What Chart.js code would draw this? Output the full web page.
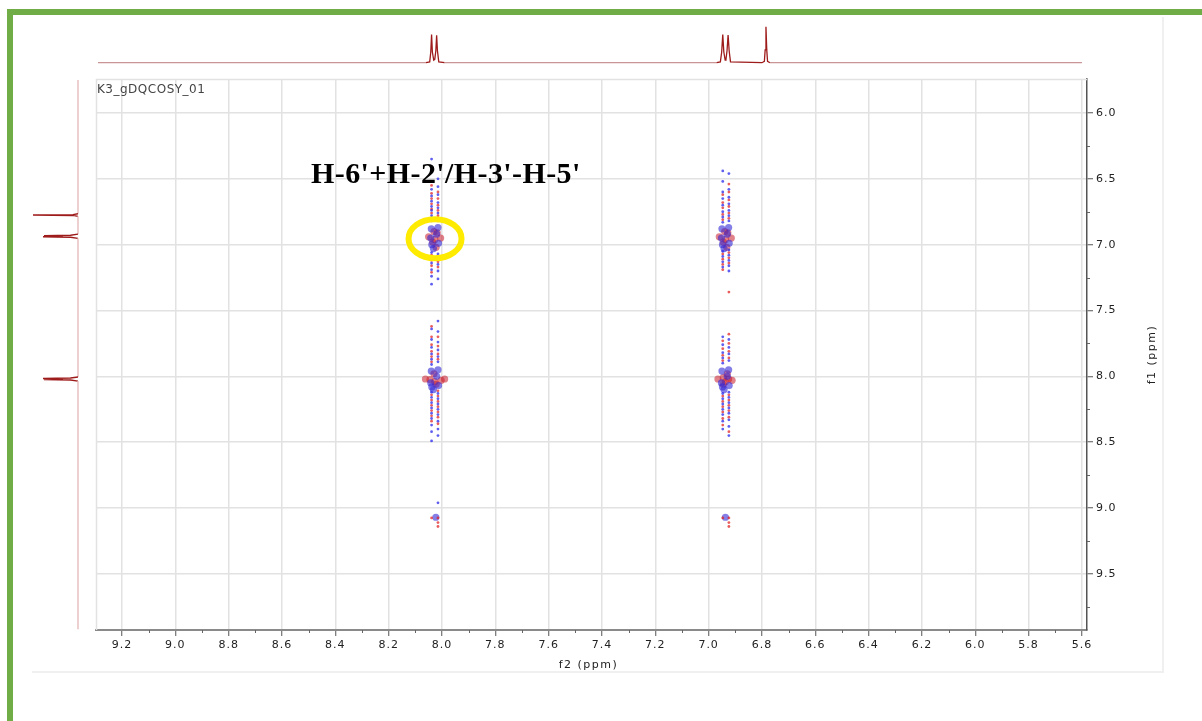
<!DOCTYPE html>
<html>
<head>
<meta charset="utf-8">
<script src="https://cdn.jsdelivr.net/npm/chart.js@4.4.1/dist/chart.umd.min.js"></script>
<style>
html, body { margin: 0; padding: 0; background: #fff; }
body { width: 1202px; height: 721px; position: relative; overflow: hidden; }
#greenTop { position: absolute; left: 7px; top: 9px; width: 1195px; height: 6px; background: #70ad47; }
#greenLeft { position: absolute; left: 7px; top: 9px; width: 6px; height: 712px; background: #70ad47; }
#panel { position: absolute; left: 32px; top: 17px; width: 1130px; height: 654px;
         border-right: 2px solid #f0f0f0; border-bottom: 2px solid #f0f0f0; }
canvas { position: absolute; }
#main { left: 0; top: 0; }
#top { left: 96px; top: 20px; }
#side { left: 28px; top: 79px; }
</style>
</head>
<body>
<div id="greenTop"></div>
<div id="greenLeft"></div>
<div id="panel"></div>
<canvas id="main" width="1202" height="721"></canvas>
<canvas id="top" width="991" height="44"></canvas>
<canvas id="side" width="52" height="551"></canvas>
<script>
// axis ranges (ppm), both axes run high -> low
const f2Range = [5.581, 9.2975];
const f1Range = [5.742, 9.926];

const f2Ticks = [9.2, 9.0, 8.8, 8.6, 8.4, 8.2, 8.0, 7.8, 7.6, 7.4, 7.2, 7.0, 6.8, 6.6, 6.4, 6.2, 6.0, 5.8, 5.6];
const f2Minor = [9.1, 8.9, 8.7, 8.5, 8.3, 8.1, 7.9, 7.7, 7.5, 7.3, 7.1, 6.9, 6.7, 6.5, 6.3, 6.1, 5.9, 5.7];
const f1Ticks = [6.0, 6.5, 7.0, 7.5, 8.0, 8.5, 9.0, 9.5];
const f1Minor = [6.25, 6.75, 7.25, 7.75, 8.25, 8.75, 9.25, 9.75];

// 1D projection on top (f2)
const topPpm = [9.29, 8.06, 8.046, 8.042, 8.039, 8.036, 8.031, 8.027, 8.023, 8.020, 8.017, 8.012, 7.99,
                6.97, 6.956, 6.951, 6.947, 6.943, 6.938, 6.935, 6.931, 6.927, 6.923, 6.918,
                6.80, 6.791, 6.788, 6.785, 6.782, 6.779, 6.77, 5.60];
const topInt = [0, 0, 0.02, 0.25, 0.66, 0.25, 0.06, 0.08, 0.28, 0.64, 0.28, 0.02, 0,
                0, 0.02, 0.25, 0.66, 0.25, 0.06, 0.08, 0.28, 0.65, 0.28, 0.02,
                0, 0.03, 0.3, 0.84, 0.3, 0.03, 0, 0];

// 1D projection on the left (f1)
const sidePpm = [5.75, 6.765, 6.772, 6.775, 6.778, 6.785, 6.92, 6.928, 6.932, 6.936, 6.940, 6.944, 6.952,
                 8.005, 8.012, 8.016, 8.020, 8.024, 8.028, 8.036, 9.92];
const sideInt = [0, 0, 0.1, 0.9, 0.1, 0, 0, 0.15, 0.68, 0.3, 0.7, 0.15, 0,
                 0, 0.15, 0.7, 0.3, 0.68, 0.15, 0, 0];

// cross peak streaks: f2 column position and the f1 values of the dots in it
const colA = 8.039, colB = 8.015, colC = 6.947, colD = 6.924;
const blueA = [6.35, 6.52, 6.58, 6.63, 6.67, 6.71, 6.74, 6.78, 6.82, 7.06, 7.10, 7.14, 7.19, 7.24, 7.30,
               7.64, 7.72, 7.78, 7.83, 7.87, 7.91, 8.12, 8.16, 8.20, 8.24, 8.28, 8.32, 8.37, 8.42, 8.49];
const redA = [6.55, 6.61, 6.65, 6.69, 6.73, 6.76, 6.80, 7.08, 7.12, 7.16, 7.21,
              7.62, 7.70, 7.76, 7.81, 7.85, 7.89, 8.14, 8.18, 8.22, 8.26, 8.30, 8.34, 9.075];
const blueB = [6.50, 6.56, 6.62, 6.68, 6.72, 6.76, 6.80, 7.07, 7.11, 7.15, 7.20, 7.26,
               7.58, 7.66, 7.74, 7.80, 7.85, 7.89, 8.13, 8.17, 8.21, 8.25, 8.29, 8.34, 8.40, 8.45, 8.96];
const redB = [6.60, 6.65, 6.70, 6.74, 6.78, 6.82, 7.09, 7.13, 7.17,
              7.70, 7.77, 7.83, 7.87, 8.11, 8.15, 8.19, 8.23, 8.27, 8.31, 8.36, 9.075, 9.11, 9.14];
const blueC = [6.44, 6.52, 6.60, 6.65, 6.70, 6.75, 6.79, 6.83, 7.05, 7.09, 7.13, 7.17,
               7.70, 7.76, 7.82, 7.86, 7.90, 8.13, 8.17, 8.21, 8.25, 8.29, 8.34, 8.40];
const redC = [6.62, 6.68, 6.72, 6.77, 6.81, 7.07, 7.11, 7.15, 7.19,
              7.73, 7.79, 7.84, 7.88, 8.15, 8.19, 8.23, 8.27, 8.32, 8.37, 9.075];
const blueD = [6.46, 6.58, 6.64, 6.69, 6.74, 6.78, 6.82, 7.04, 7.08, 7.12, 7.16, 7.20,
               7.72, 7.78, 7.83, 7.88, 8.12, 8.16, 8.20, 8.24, 8.28, 8.33, 8.38, 8.45];
const redD = [6.54, 6.60, 6.66, 6.71, 6.76, 6.80, 7.06, 7.10, 7.14, 7.36,
              7.68, 7.75, 7.81, 7.86, 8.14, 8.18, 8.22, 8.26, 8.31, 8.42, 9.075, 9.11, 9.14];

// dense centres of the cross peaks [f2, f1]
const blueCore = [[8.040, 6.88], [8.015, 6.87], [8.042, 6.95], [8.013, 6.99], [8.032, 7.03], [8.020, 6.92], [8.038, 7.00],
                  [6.950, 6.88], [6.925, 6.87], [6.952, 6.95], [6.923, 6.99], [6.942, 7.03], [6.930, 6.92], [6.948, 7.00],
                  [8.040, 7.96], [8.015, 7.95], [8.042, 8.05], [8.013, 8.07], [8.032, 8.10], [8.020, 8.00], [8.038, 8.08],
                  [6.950, 7.96], [6.925, 7.95], [6.952, 8.05], [6.923, 8.07], [6.942, 8.10], [6.930, 8.00], [6.948, 8.08],
                  [8.023, 9.07], [6.937, 9.07]];
const redCore = [[8.030, 6.90], [8.050, 6.94], [8.005, 6.95], [8.035, 6.98], [8.018, 6.91], [8.027, 6.96], [8.022, 7.02],
                 [6.940, 6.90], [6.960, 6.94], [6.915, 6.95], [6.945, 6.98], [6.928, 6.91], [6.937, 6.96], [6.932, 7.02],
                 [8.062, 8.02], [8.045, 8.025], [8.003, 8.03], [7.990, 8.02], [8.027, 8.04], [8.030, 7.98], [8.022, 8.06],
                 [6.965, 8.02], [6.945, 8.01], [6.912, 8.03], [6.945, 8.06], [6.930, 7.98], [6.937, 8.04], [6.925, 8.02]];

const ringCenter = [8.026, 6.955];

const BLUE = 'rgba(40, 40, 235, 0.75)';
const RED = 'rgba(225, 30, 30, 0.72)';
const FONT = "'DejaVu Sans', Verdana, sans-serif";

function column(f2, list) {
    return list.map(v => ({x: f2, y: v}));
}
function pairs(list) {
    return list.map(p => ({x: p[0], y: p[1]}));
}

Chart.defaults.font.family = FONT;
Chart.defaults.font.size = 11;
Chart.defaults.color = '#222';

const decor = {
    id: 'decor',
    beforeDraw(chart) {
        chart.ctx.letterSpacing = '1px';
    },
    afterDraw(chart) {
        const ctx = chart.ctx;
        const a = chart.chartArea;
        const x = chart.scales.x, y = chart.scales.y;
        ctx.save();
        // light box edges on top / left of the plot
        ctx.strokeStyle = '#e2e2e2';
        ctx.lineWidth = 1.5;
        ctx.beginPath();
        ctx.moveTo(a.left + 0.5, a.bottom);
        ctx.lineTo(a.left + 0.5, a.top + 0.5);
        ctx.lineTo(a.right, a.top + 0.5);
        ctx.stroke();
        // minor ticks
        ctx.strokeStyle = '#666';
        ctx.lineWidth = 1;
        f2Minor.forEach(v => {
            const px = Math.round(x.getPixelForValue(v)) + 0.5;
            ctx.beginPath();
            ctx.moveTo(px, a.bottom);
            ctx.lineTo(px, a.bottom + 3);
            ctx.stroke();
        });
        f1Minor.forEach(v => {
            const py = Math.round(y.getPixelForValue(v)) + 0.5;
            ctx.beginPath();
            ctx.moveTo(a.right, py);
            ctx.lineTo(a.right + 3, py);
            ctx.stroke();
        });
        // axis titles
        ctx.fillStyle = '#222';
        ctx.font = '11px ' + FONT;
        ctx.letterSpacing = '1.5px';
        ctx.textAlign = 'center';
        ctx.textBaseline = 'middle';
        ctx.fillText('f2 (ppm)', (a.left + a.right) / 2 - 3, 665);
        ctx.save();
        ctx.translate(1152, (a.top + a.bottom) / 2);
        ctx.rotate(-Math.PI / 2);
        ctx.fillText('f1 (ppm)', 0, 0);
        ctx.restore();
        // experiment name
        ctx.textAlign = 'left';
        ctx.textBaseline = 'alphabetic';
        ctx.font = '12px ' + FONT;
        ctx.letterSpacing = '0.5px';
        ctx.fillStyle = '#444';
        ctx.fillText('K3_gDQCOSY_01', a.left + 1, a.top + 14);
        // highlighted cross peak
        ctx.strokeStyle = '#ffeb00';
        ctx.lineWidth = 6;
        ctx.beginPath();
        ctx.ellipse(x.getPixelForValue(ringCenter[0]), y.getPixelForValue(ringCenter[1]), 26.5, 19.5, 0, 0, Math.PI * 2);
        ctx.stroke();
        // annotation
        ctx.letterSpacing = '0.4px';
        ctx.fillStyle = '#000';
        ctx.font = "bold 30px 'Liberation Serif', 'Times New Roman', serif";
        ctx.fillText("H-6'+H-2'/H-3'-H-5'", 311, 183);
        ctx.restore();
    }
};

new Chart(document.getElementById('main'), {
    type: 'scatter',
    data: {
        datasets: [
            {data: [...column(colA, blueA), ...column(colB, blueB), ...column(colC, blueC), ...column(colD, blueD)],
             backgroundColor: BLUE, borderWidth: 0, pointRadius: 1.4},
            {data: [...column(colA, redA), ...column(colB, redB), ...column(colC, redC), ...column(colD, redD)],
             backgroundColor: RED, borderWidth: 0, pointRadius: 1.4},
            {data: pairs(blueCore), backgroundColor: 'rgba(50, 40, 215, 0.6)', borderWidth: 0, pointRadius: 3.6},
            {data: pairs(redCore), backgroundColor: 'rgba(200, 25, 40, 0.55)', borderWidth: 0, pointRadius: 3.6}
        ]
    },
    options: {
        responsive: false,
        animation: false,
        events: [],
        layout: {padding: {left: 96, top: 79, right: 35, bottom: 41}},
        plugins: {legend: {display: false}, tooltip: {enabled: false}},
        scales: {
            x: {
                type: 'linear',
                reverse: true,
                min: f2Range[0],
                max: f2Range[1],
                afterBuildTicks: s => { s.ticks = f2Ticks.map(v => ({value: v})); },
                afterFit: s => { s.height = 50; },
                grid: {color: '#e2e2e2', lineWidth: 1.5, tickLength: 6, tickColor: '#555', tickWidth: 1},
                border: {color: '#8a8a8a', width: 2},
                ticks: {autoSkip: false, maxRotation: 0, padding: 3, callback: v => v.toFixed(1)}
            },
            y: {
                type: 'linear',
                position: 'right',
                reverse: true,
                min: f1Range[0],
                max: f1Range[1],
                afterBuildTicks: s => { s.ticks = f1Ticks.map(v => ({value: v})); },
                afterFit: s => { s.width = 80; },
                grid: {color: '#e2e2e2', lineWidth: 1.5, tickLength: 6, tickColor: '#555', tickWidth: 1},
                border: {color: '#555', width: 1.5},
                ticks: {autoSkip: false, padding: 3, callback: v => v.toFixed(1)}
            }
        }
    },
    plugins: [decor]
});

// segments lying on the baseline are drawn paler than the peaks
function specColor(pale, axis) {
    return ctx => (ctx.p0.parsed[axis] < 0.02 && ctx.p1.parsed[axis] < 0.02) ? pale : '#9e1b1b';
}

new Chart(document.getElementById('top'), {
    type: 'scatter',
    data: {
        datasets: [{
            data: topPpm.map((p, i) => ({x: p, y: topInt[i]})),
            showLine: true, pointRadius: 0, borderWidth: 1.3, borderColor: '#9e1b1b',
            segment: {borderColor: specColor('#c99595', 'y')}
        }]
    },
    options: {
        responsive: false,
        animation: false,
        events: [],
        plugins: {legend: {display: false}, tooltip: {enabled: false}},
        scales: {
            x: {type: 'linear', reverse: true, min: f2Range[0], max: f2Range[1], display: false},
            y: {min: -0.03, max: 1, display: false}
        }
    }
});

new Chart(document.getElementById('side'), {
    type: 'scatter',
    data: {
        datasets: [{
            data: sidePpm.map((p, i) => ({x: sideInt[i], y: p})),
            showLine: true, pointRadius: 0, borderWidth: 1.4, borderColor: '#9e1b1b',
            segment: {borderColor: specColor('#e6bcbc', 'x')}
        }]
    },
    options: {
        responsive: false,
        animation: false,
        events: [],
        plugins: {legend: {display: false}, tooltip: {enabled: false}},
        scales: {
            x: {type: 'linear', reverse: true, min: -0.04, max: 1, display: false},
            y: {type: 'linear', reverse: true, min: f1Range[0], max: f1Range[1], display: false}
        }
    }
});
</script>
</body>
</html>
